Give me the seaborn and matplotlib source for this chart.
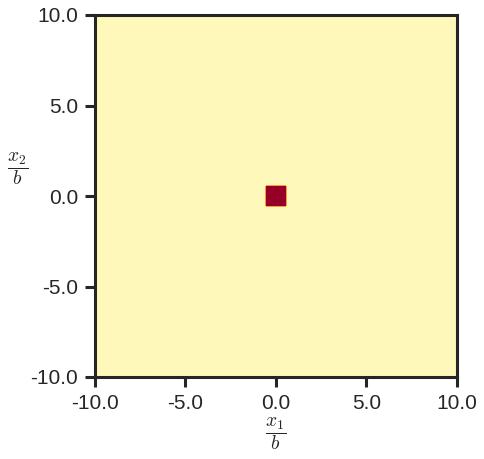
import numpy as np
import matplotlib
matplotlib.use("Agg")
import matplotlib.pyplot as plt
import seaborn as sns

# grid of the domain (in units of b) and the square source region
x_vals = np.linspace(-10, 10, 201)
y_vals = np.linspace(-10, 10, 201)
source_half_width = 0.5
source_value = 1.0
background_value = 0.0
tick_values = [-10, -5, 0, 5, 10]

sns.set_theme(style="ticks", context="talk")
plt.rcParams['font.family'] = ['Liberation Sans', 'DejaVu Sans']
plt.rcParams['mathtext.fontset'] = 'cm'

X, Y = np.meshgrid(x_vals, y_vals)
inside = (np.abs(X) <= source_half_width) & (np.abs(Y) <= source_half_width)
field = np.where(inside, source_value, background_value)

fig = plt.figure(figsize=(4.85, 4.59), dpi=100)
ax = fig.add_axes([95 / 485, 1 - 377 / 459, 362 / 485, 362 / 459])

ax.contourf(X, Y, field, levels=np.linspace(0, 1, 11), cmap="YlOrRd")

ax.set_xlim(-10, 10)
ax.set_ylim(-10, 10)
ax.set_xticks(tick_values)
ax.set_yticks(tick_values)
ax.set_xticklabels([f"{t:.1f}" for t in tick_values])
ax.set_yticklabels([f"{t:.1f}" for t in tick_values])

ax.tick_params(labelsize=15, length=7, width=2.2, colors="#262626", pad=5)
for sp in ax.spines.values():
    sp.set_linewidth(2.2)
    sp.set_color("#262626")

ax.set_xlabel(r"$\dfrac{x_1}{b}$", fontsize=14, labelpad=2)
ax.set_ylabel(r"$\dfrac{x_2}{b}$", fontsize=14, rotation=0)
ax.yaxis.set_label_coords(-0.215, 0.525)

fig.savefig("out.png", dpi=100)
